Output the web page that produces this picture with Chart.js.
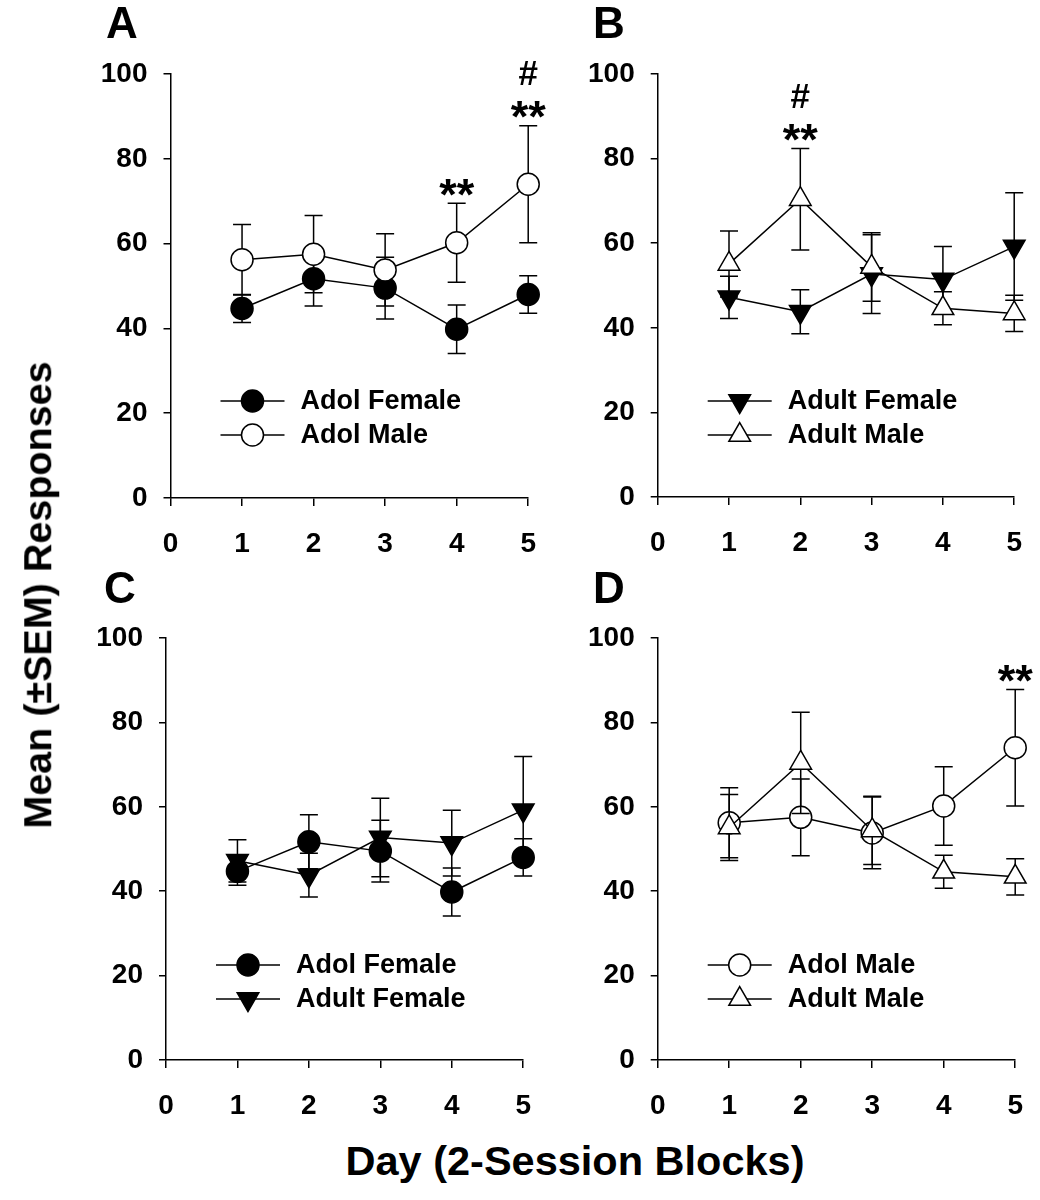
<!DOCTYPE html>
<html><head><meta charset="utf-8">
<script src="https://cdn.jsdelivr.net/npm/chart.js@4"></script>
<style>
html,body{margin:0;padding:0;background:#fff;}
body{width:1040px;height:1200px;position:relative;overflow:hidden;font-family:"Liberation Sans",Arial,sans-serif;}
.box{position:absolute;}
.lbl{position:absolute;font-weight:bold;color:#000;white-space:nowrap;transform:translate(-50%,-50%);line-height:1;}
</style></head><body>
<div class="box" style="left:0px;top:0px;width:557px;height:558px"><canvas id="cA"></canvas></div>
<div class="box" style="left:550px;top:0px;width:493px;height:557px"><canvas id="cB"></canvas></div>
<div class="box" style="left:0px;top:580px;width:552px;height:540px"><canvas id="cC"></canvas></div>
<div class="box" style="left:550px;top:580px;width:494px;height:540px"><canvas id="cD"></canvas></div>
<div class="lbl" style="left:122px;top:23px;font-size:44px">A</div>
<div class="lbl" style="left:609px;top:23px;font-size:44px">B</div>
<div class="lbl" style="left:120px;top:588px;font-size:44px">C</div>
<div class="lbl" style="left:609px;top:588px;font-size:44px">D</div>
<div class="lbl" style="left:38px;top:595px;font-size:39.5px;transform:translate(-50%,-50%) rotate(-90deg)">Mean (±SEM) Responses</div>
<div class="lbl" style="left:575px;top:1161px;font-size:41.5px">Day (2-Session Blocks)</div>
<script>
// ---- data ----
const days = [1, 2, 3, 4, 5];
const xTicks = [0, 1, 2, 3, 4, 5];
const yTicks = [0, 20, 40, 60, 80, 100];
const adolFemaleMean = [44.7, 51.7, 49.5, 39.8, 48.0];
const adolFemaleSem  = [3.3, 6.4, 7.3, 5.7, 4.4];
const adolMaleMean   = [56.2, 57.5, 53.8, 60.2, 74.0];
const adolMaleSem    = [8.3, 9.1, 8.5, 9.3, 13.8];
const adultFemaleMean = [47.2, 43.8, 52.7, 51.4, 59.2];
const adultFemaleSem  = [5.0, 5.2, 9.3, 7.8, 12.7];
const adultMaleMean   = [55.1, 70.4, 54.4, 44.6, 43.4];
const adultMaleSem    = [7.8, 12.0, 8.1, 3.9, 4.3];

const FONT = '"Liberation Sans", Arial, sans-serif';

const groups = {
  adolFemale:  {label: 'Adol Female',  mean: adolFemaleMean,  sem: adolFemaleSem,  style: 'circle',   fill: '#000', rot: 0,   r: 11},
  adolMale:    {label: 'Adol Male',    mean: adolMaleMean,    sem: adolMaleSem,    style: 'circle',   fill: '#fff', rot: 0,   r: 11},
  adultFemale: {label: 'Adult Female', mean: adultFemaleMean, sem: adultFemaleSem, style: 'triangle', fill: '#000', rot: 180, r: 12.5},
  adultMale:   {label: 'Adult Male',   mean: adultMaleMean,   sem: adultMaleSem,   style: 'triangle', fill: '#fff', rot: 0,   r: 12.5}
};

function makeDataset(key, order) {
  const g = groups[key];
  return {
    label: g.label,
    data: days.map((d, i) => ({x: d, y: g.mean[i]})),
    sem: g.sem,
    borderColor: '#000',
    borderWidth: 1.5,
    pointStyle: g.style,
    pointRotation: g.rot,
    pointRadius: g.r,
    pointBorderWidth: 1.5,
    pointBorderColor: '#000',
    pointBackgroundColor: g.fill,
    fill: false,
    tension: 0,
    clip: false,
    order: order
  };
}

function drawMarker(ctx, style, rot, r, fill, x, y) {
  ctx.save();
  ctx.beginPath();
  if (style === 'circle') {
    ctx.arc(x, y, r, 0, Math.PI * 2);
  } else {
    let a = rot * Math.PI / 180;
    ctx.moveTo(x + Math.sin(a) * r, y - Math.cos(a) * r);
    a += Math.PI * 2 / 3;
    ctx.lineTo(x + Math.sin(a) * r, y - Math.cos(a) * r);
    a += Math.PI * 2 / 3;
    ctx.lineTo(x + Math.sin(a) * r, y - Math.cos(a) * r);
    ctx.closePath();
  }
  ctx.fillStyle = fill;
  ctx.fill();
  ctx.lineWidth = 1.5;
  ctx.strokeStyle = '#000';
  ctx.stroke();
  ctx.restore();
}

const errorBars = {
  id: 'errorBars',
  beforeDatasetDraw(chart, args) {
    const ds = chart.data.datasets[args.index];
    const ys = chart.scales.y;
    const ctx = chart.ctx;
    ctx.save();
    ctx.strokeStyle = '#000';
    ctx.lineWidth = 1.5;
    args.meta.data.forEach((pt, i) => {
      const m = ds.data[i].y, s = ds.sem[i];
      const yt = ys.getPixelForValue(m + s), yb = ys.getPixelForValue(m - s);
      const x = pt.x;
      ctx.beginPath();
      ctx.moveTo(x, yt); ctx.lineTo(x, yb);
      ctx.moveTo(x - 9, yt); ctx.lineTo(x + 9, yt);
      ctx.moveTo(x - 9, yb); ctx.lineTo(x + 9, yb);
      ctx.stroke();
    });
    ctx.restore();
  }
};

const extras = {
  id: 'extras',
  afterDraw(chart) {
    const ctx = chart.ctx;
    const ca = chart.chartArea;
    const opts = chart.options.plugins.extras;
    // legend
    opts.legend.forEach((key, i) => {
      const g = groups[key];
      const y = ca.top + 327 + i * 34;
      const x0 = ca.left + 50;
      ctx.save();
      ctx.strokeStyle = '#000';
      ctx.lineWidth = 1.5;
      ctx.beginPath();
      ctx.moveTo(x0, y); ctx.lineTo(x0 + 64, y);
      ctx.stroke();
      ctx.restore();
      drawMarker(ctx, g.style, g.rot, g.r, g.fill, x0 + 32, y);
      ctx.save();
      ctx.fillStyle = '#000';
      ctx.font = 'bold 27px ' + FONT;
      ctx.textBaseline = 'middle';
      ctx.textAlign = 'left';
      ctx.fillText(g.label, x0 + 80, y + 1);
      ctx.restore();
    });
    // significance marks
    const xs = chart.scales.x, ys = chart.scales.y;
    (opts.marks || []).forEach(mk => {
      const g = groups[mk.group];
      const i = days.indexOf(mk.day);
      const top = ys.getPixelForValue(g.mean[i] + g.sem[i]);
      const x = xs.getPixelForValue(mk.day);
      ctx.save();
      ctx.fillStyle = '#000';
      ctx.textAlign = 'center';
      ctx.textBaseline = 'middle';
      ctx.font = 'bold 45px ' + FONT;
      ctx.fillText('**', x, top - 6);
      if (mk.hash) {
        ctx.font = 'bold 35px ' + FONT;
        ctx.fillText('#', x, top - 50);
      }
      ctx.restore();
    });
  }
};

function scales(yWidth) {
  const tickFont = {family: FONT, size: 28, weight: 'bold'};
  return {
    x: {
      type: 'linear', min: 0, max: 5,
      afterBuildTicks(s) { s.ticks = xTicks.map(v => ({value: v})); },
      ticks: {color: '#000', font: tickFont, padding: 21, maxRotation: 0, autoSkip: false},
      grid: {drawOnChartArea: false, drawTicks: true, tickLength: 8, color: '#000', lineWidth: 1.5},
      border: {color: '#000', width: 1.5},
      afterFit(s) { s.height = 60; }
    },
    y: {
      type: 'linear', min: 0, max: 100,
      afterBuildTicks(s) { s.ticks = yTicks.map(v => ({value: v})); },
      ticks: {color: '#000', font: tickFont, padding: 16, autoSkip: false},
      grid: {drawOnChartArea: false, drawTicks: true, tickLength: 7, color: '#000', lineWidth: 1.5},
      border: {color: '#000', width: 1.5},
      afterFit(s) { s.width = yWidth; }
    }
  };
}

function makeChart(id, keys, yWidth, pad, marks) {
  new Chart(document.getElementById(id), {
    type: 'line',
    data: {datasets: [makeDataset(keys[0], 1), makeDataset(keys[1], 0)]},
    options: {
      responsive: true,
      maintainAspectRatio: false,
      animation: false,
      devicePixelRatio: 1,
      layout: {padding: pad},
      plugins: {legend: {display: false}, tooltip: {enabled: false}, extras: {legend: keys, marks: marks}},
      scales: scales(yWidth)
    },
    plugins: [errorBars, extras]
  });
}

makeChart('cA', ['adolFemale', 'adolMale'], 170.5, {top: 74, right: 0, left: 0, bottom: 0},
  [{group: 'adolMale', day: 4}, {group: 'adolMale', day: 5, hash: true}]);
makeChart('cB', ['adultFemale', 'adultMale'], 107.7, {top: 74, right: 0, left: 0, bottom: 0},
  [{group: 'adultMale', day: 2, hash: true}]);
makeChart('cC', ['adolFemale', 'adultFemale'], 166, {top: 58, right: 0, left: 0, bottom: 0}, []);
makeChart('cD', ['adolMale', 'adultMale'], 107.7, {top: 58, right: 0, left: 0, bottom: 0},
  [{group: 'adolMale', day: 5}]);
</script>
</body></html>
